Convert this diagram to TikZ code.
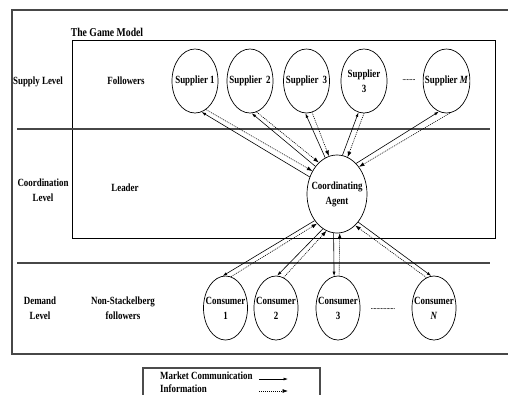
\documentclass[tikz,border=0pt]{standalone}
\usepackage{fontspec}
\setmainfont{Liberation Serif}[FakeStretch=0.81]
\usetikzlibrary{arrows.meta,shapes.geometric}
\begin{document}
\begin{tikzpicture}[x=1pt,y=-1pt,
  every node/.style={font=\fontsize{11}{15}\selectfont\bfseries, inner sep=0pt},
  actor/.style={ellipse, draw, line width=0.7pt, inner xsep=-5pt, minimum width=46pt, minimum height=64pt, align=center},
  cons/.style={actor, minimum width=44pt},
  agentshape/.style={ellipse, draw, line width=0.7pt, inner xsep=-5pt, minimum width=60pt, minimum height=78pt, align=center},
  lbl/.style={align=center},
  sep/.style={draw=black!72, line width=1.1pt},
  dotsnode/.style={font=\fontsize{7}{8}\selectfont\bfseries},
  mc/.style={line width=0.6pt, -{Latex[length=4.5pt,width=3pt]}},
  inf/.style={line width=0.6pt, dash pattern=on 1pt off 1pt, -{Latex[length=5.5pt,width=4pt]}},
]
\useasboundingbox (0,0) rectangle (508,394);
% frames
\draw[sep] (12,10) rectangle (512,354);
\draw[line width=0.8pt] (72,40.5) rectangle (495,238);
\draw[sep] (17,129) -- (490,129);
\draw[sep] (17,263) -- (490,263);
% labels
\node[font=\fontsize{12}{14}\selectfont\bfseries] (title) at (107,32) {The Game Model};
\node[lbl] (supl) at (38,82) {Supply Level};
\node[lbl] (foll) at (126,81) {Followers};
\node[lbl] (coordl) at (43,190) {Coordination\\Level};
\node[lbl] (lead) at (125,188) {Leader};
\node[lbl] (deml) at (40,308) {Demand\\Level};
\node[lbl] (nsf) at (123,308) {Non-Stackelberg\\followers};
% suppliers
\node[actor] (s1) at (195,81) {Supplier 1};
\node[actor] (s2) at (250,81) {Supplier\ \,2};
\node[actor] (s3) at (306.5,81) {Supplier\ \,3};
\node[actor] (s4) at (364,81) {Supplier\\3};
\node[dotsnode] (sdots) at (409,80) {.........};
\node[actor] (sm) at (446.5,81) {Supplier \textit{M}};
% agent
\node[agentshape] (agent) at (337,194) {Coordinating\\Agent};
% consumers
\node[cons] (c1) at (225.5,308) {Consumer\\1};
\node[cons] (c2) at (276,308) {Consumer\\2};
\node[cons] (c3) at (338,308) {Consumer\\3};
\node[dotsnode] (cdots) at (383,309) {.................};
\node[cons] (cn) at (434,308) {Consumer\\\textit{N}};
% connectors suppliers
\draw[mc] (agent.148) -- (s1.-78);
\draw[inf] (s1.-69) -- (agent.137);
\draw[mc] (agent.128) -- (s2.-87);
\draw[inf] (s2.-78) -- (agent.120);
\draw[mc] (agent.108) -- (s3.-92);
\draw[inf] (s3.-80) -- (agent.102);
\draw[mc] (agent.82) -- (s4.-100);
\draw[inf] (s4.-90) -- (agent.74);
\draw[mc] (agent.58) -- (sm.-104);
\draw[inf] (sm.-84) -- (agent.51);
% connectors consumers
\draw[mc] (agent.-130) -- (c1.95);
\draw[inf] (c1.80) -- (agent.-124);
\draw[mc] (agent.-112) -- (c2.88);
\draw[inf] (c2.76) -- (agent.-106);
\draw[mc] (agent.-95) -- (c3.97);
\draw[inf] (c3.88) -- (agent.-86);
\draw[mc] (agent.-53) -- (cn.95);
\draw[inf] (cn.104) -- (agent.-60);
% legend
\draw[draw=black!70, line width=1.2pt] (143,368) rectangle (320,402);
\node[anchor=west] (lmc) at (160,376) {Market Communication};
\node[anchor=west] (linf) at (160,388.5) {Information};
\coordinate (l1a) at (259,379);
\coordinate (l1b) at (288,379);
\coordinate (l2a) at (259,391);
\coordinate (l2b) at (288,391);
\draw[mc] (l1a) -- (l1b);
\draw[inf] (l2a) -- (l2b);
\end{tikzpicture}
\end{document}
